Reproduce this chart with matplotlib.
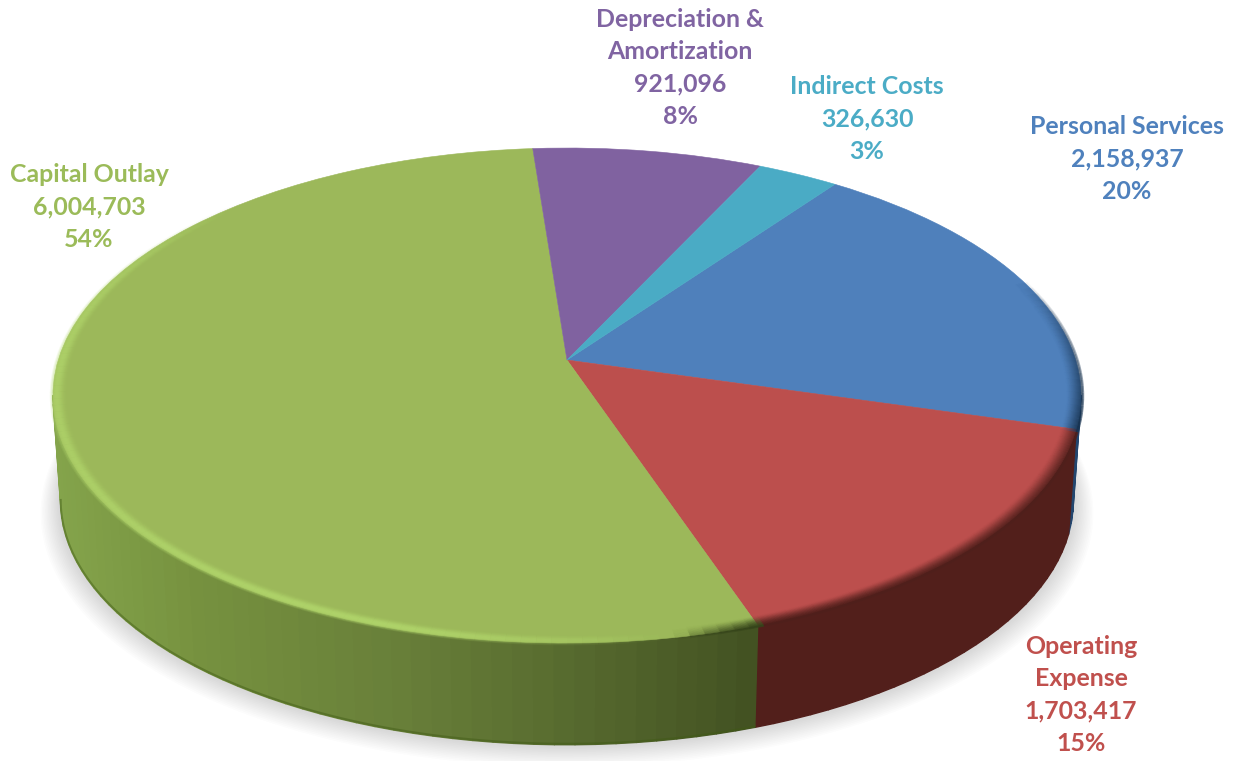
import numpy as np
import matplotlib
matplotlib.use("Agg")
import matplotlib.pyplot as plt
from matplotlib.collections import PolyCollection, LineCollection
from matplotlib.colors import to_rgb
from matplotlib.transforms import Transform

names = ["Personal Services", "Operating\nExpense", "Capital Outlay", "Depreciation &\nAmortization", "Indirect Costs"]
values = [2158937, 1703417, 6004703, 921096, 326630]
percents = [20, 15, 54, 8, 3]
colors = ["#4f80bb", "#bc4f4d", "#9cb85a", "#8062a0", "#4aabc5"]
label_colors = ["#4f81bd", "#c0504d", "#9bbb59", "#8064a2", "#4bacc6"]
wall_colors = ["#23466e", "#521f1b", None, "#4f3a66", "#2a6a7a"]
label_centers = [(1127, 159), (1081, 695), (89, 207), (680, 68), (867, 119)]

START = 54.0
CX, CY = 567.0, 360.0
A, B, K = 508.7, 242.4, 0.1435
DEPTH_Y, SHRINK = 106.0, 0.985
TAN = np.degrees(np.arcsin(K))


def project(c, s, cy=CY, scale=1.0):
    w = 1 + K * s
    return np.column_stack([CX + scale * A * c / w, cy - scale * B * s / w])


class Tilt(Transform):
    input_dims = output_dims = 2
    is_separable = False
    has_inverse = False

    def transform_non_affine(self, pts):
        pts = np.asarray(pts, float)
        return project(pts[:, 0], pts[:, 1])


def rim(t, r=1.0, cy=CY, scale=1.0):
    t = np.radians(t)
    return project(r * np.cos(t), r * np.sin(t), cy, scale)


plt.rcParams["font.family"] = ["Lato", "DejaVu Sans"]
fig = plt.figure(figsize=(12.35, 7.61), dpi=100)
ax = fig.add_axes([0, 0, 1, 1])

wedges, _ = ax.pie(values, colors=colors, startangle=START, counterclock=False, radius=1.0)
tilt = Tilt()
for w, col in zip(wedges, colors):
    w.set_transform(tilt + ax.transData)
    w.set_edgecolor(col)
    w.set_linewidth(0.4)
    w.set_zorder(3)
    w.set_clip_on(False)

ax.set_aspect("auto")
ax.set_xlim(0, 1235)
ax.set_ylim(761, 0)
ax.axis("off")

# soft shadow beneath the disc
front = np.linspace(180 + TAN - 30, 360 - TAN + 30, 200)
for grow in np.linspace(20, 1, 14):
    pts = rim(front, 1.0, CY + DEPTH_Y + grow * 0.55, SHRINK + grow / 514)
    ax.fill(pts[:, 0], pts[:, 1], color="#777777", alpha=0.02, lw=0, zorder=0)

# side wall, one strip list per slice
shares = np.cumsum([0] + values) / sum(values) * 360
bounds = START - shares
xs = [55, 200, 400, 550, 750]
gstops = np.array([to_rgb(c) for c in ["#84a44b", "#76913f", "#687f39", "#596d30", "#435222"]])
front_lo, front_hi = -180 + TAN, -TAN
for i in range(len(values)):
    hi, lo = bounds[i], bounds[i + 1]
    for shift in (0, -360, 360):
        a, b = max(lo + shift, front_lo), min(hi + shift, front_hi)
        if a >= b:
            continue
        n = max(int((b - a) / 2), 2)
        tt = np.linspace(a, b, n + 1)
        top = rim(tt)
        bot = rim(tt, 1.0, CY + DEPTH_Y, SHRINK)
        polys = [np.vstack([top[j:j + 2], bot[j:j + 2][::-1]]) for j in range(n)]
        if wall_colors[i] is None:
            mid = (top[:-1, 0] + top[1:, 0]) / 2
            cols = np.column_stack([np.interp(mid, xs, gstops[:, k]) for k in range(3)])
        else:
            cols = [wall_colors[i]] * n
        ax.add_collection(PolyCollection(polys, facecolors=cols, edgecolors=cols, linewidths=1.0, zorder=1))

# dark line along the foot of the green wall
tt = np.linspace(front_lo, bounds[2], 120)
foot = rim(tt, 1.0, CY + DEPTH_Y - 1, SHRINK)
ax.plot(foot[:, 0], foot[:, 1], color="#3f5a14", lw=1.5, alpha=0.45, zorder=2)

# bevel along the rim of the top face
ang = np.arange(-225.0, 60.0, 1.5)
rings = np.linspace(1.004, 0.972, 17)
red_hi, red_lo = bounds[1], bounds[2]
light = np.array(to_rgb("#b4da6e"))
dark_g = np.array(to_rgb("#35441a"))
dark_r = np.array(to_rgb("#4f1f1b"))
dark_b = np.array(to_rgb("#17324f"))
for ri, r in enumerate(rings):
    f = ri / (len(rings) - 1)
    pts = rim(ang, r)
    segs = np.stack([pts[:-1], pts[1:]], axis=1)
    rgba = np.zeros((len(segs), 4))
    for j, t in enumerate((ang[:-1] + ang[1:]) / 2):
        if t < red_lo:
            gap = red_lo - t
            edge = np.clip((gap - 8) / 28, 0, 1)
            left = np.clip((t + 225) / 45, 0, 1)
            lit = edge * left * np.exp(-((f - 0.35) / 0.33) ** 2) * 0.42
            drk = np.clip(1 - gap / 8, 0, 1) * (1 - f) ** 1.5 * 0.7
            rgba[j] = [*dark_g, drk] if gap < 8 else [*light, lit]
        elif t < red_hi:
            rgba[j] = [*dark_r, (1 - f) ** 1.5 * 0.7]
        else:
            fade = np.clip(1 - (t - red_hi) / 36, 0, 1)
            rgba[j] = [*dark_b, (1 - f) ** 1.5 * fade * 0.7]
    ax.add_collection(LineCollection(segs, colors=rgba, linewidths=1.6, zorder=4, capstyle="butt"))

# labels
for name, v, p, col, (x, y) in zip(names, values, percents, label_colors, label_centers):
    ax.text(x, y, f"{name}\n{v:,}\n{p}%", color=col, ha="center", va="center", ma="center",
            fontsize=17.9, fontweight="bold", linespacing=1.5, zorder=6)

fig.savefig("out.png", dpi=100, facecolor="white")
